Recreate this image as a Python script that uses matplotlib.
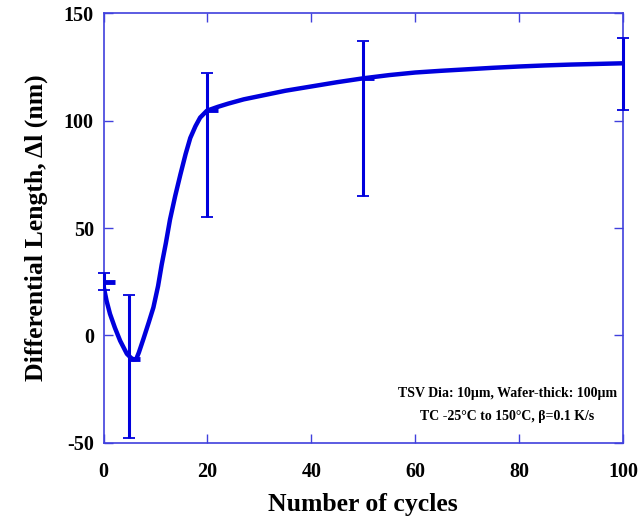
import numpy as np
import matplotlib
matplotlib.use('Agg')
import matplotlib.pyplot as plt

plt.rcParams['font.family'] = ['Liberation Serif', 'DejaVu Serif']
plt.rcParams['font.weight'] = 'bold'
plt.rcParams['axes.unicode_minus'] = False

# smooth fitted curve
curve_x = [0, 0.6, 1.25, 2.2, 3.2, 4.5, 5.3, 5.8, 6.3, 6.8, 7.7, 8.7, 9.6, 10.5, 11.2,
           12, 12.8, 13.8, 14.8, 15.8, 16.7, 17.7, 18.6, 19.9, 22, 24, 27, 30, 35,
           40, 45, 50, 55, 60, 65, 70, 75, 80, 85, 90, 95, 100]
curve_y = [23, 16, 10, 3.5, -2.5, -8.6, -10.5, -11.2, -11, -8, -1.5, 6, 13, 23, 33,
           43, 54, 65, 75, 84.5, 92, 97.5, 101.5, 104.7, 106.5, 108, 110, 111.5, 114,
           116, 118, 119.8, 121.3, 122.5, 123.3, 124, 124.7, 125.3, 125.8, 126.2, 126.5, 126.8]

# measured points with error bars
cycles = [0, 5, 20, 50, 100]
dl_mean = [25, -11, 105, 120, 127]
dl_low = [21, -48, 55, 65, 105]
dl_high = [29, 19, 122.5, 137, 138.5]

blue = '#0000dd'

fig = plt.figure(figsize=(6.39, 5.19), dpi=100)
ax = fig.add_axes([0.162, 0.147, 0.813, 0.827])

ax.plot(curve_x, curve_y, color=blue, lw=3.2, solid_joinstyle='round', zorder=3)

yerr = [np.array(dl_mean) - np.array(dl_low), np.array(dl_high) - np.array(dl_mean)]
ax.errorbar(cycles, dl_mean, yerr=yerr, fmt='none', ecolor=blue, elinewidth=2.2,
            capsize=4.5, capthick=1.3, zorder=4, clip_on=False)
ax.plot(cycles, dl_mean, ls='none', marker=1, ms=8, mew=3.5, color=blue, zorder=4)

ax.set_xlim(0, 100)
ax.set_ylim(-50, 150)
ax.set_xticks([0, 20, 40, 60, 80, 100])
ax.set_yticks([-50, 0, 50, 100, 150])

for s in ax.spines.values():
    s.set_color('#4040dd')
    s.set_linewidth(1.2)
ax.tick_params(direction='in', length=6.5, width=1, color='#4040dd',
               top=True, right=True, labelsize=14.5)
ax.tick_params(axis='x', pad=14)
ax.tick_params(axis='y', pad=7)

ax.set_xlabel('Number of cycles', fontsize=18.5, fontweight='bold', labelpad=8)
ax.set_ylabel('Differential Length, \u0394l (nm)', fontsize=18.5, fontweight='bold', labelpad=11)

ax.text(77.7, -27.3, 'TSV Dia: 10\u00b5m, Wafer-thick: 100\u00b5m', ha='center', va='center',
        fontsize=10, fontweight='bold')
ax.text(77.7, -38, 'TC -25\u00b0C to 150\u00b0C, \u03b2=0.1 K/s', ha='center', va='center',
        fontsize=10, fontweight='bold')

fig.savefig('out.png', dpi=100)
